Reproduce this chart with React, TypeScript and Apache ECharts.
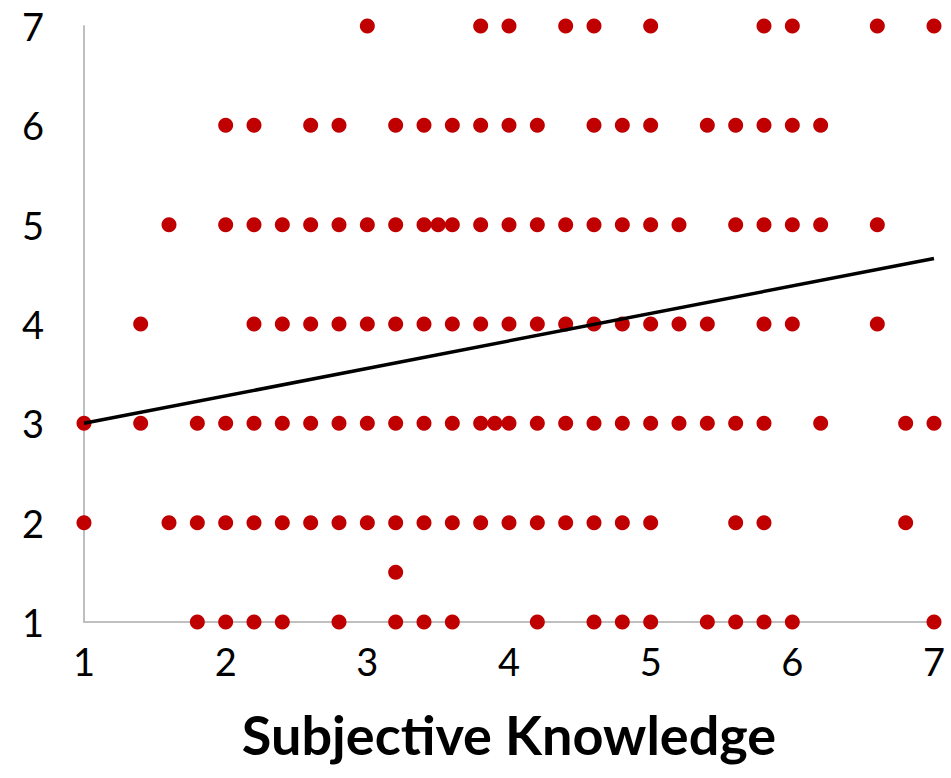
import React, { useEffect, useRef } from "react";
import * as echarts from "echarts";

// x values of the dots at each y level
const row7: number[] = [3, 3.8, 4, 4.4, 4.6, 5, 5.8, 6, 6.6, 7];
const row6: number[] = [2, 2.2, 2.6, 2.8, 3.2, 3.4, 3.6, 3.8, 4, 4.2, 4.6, 4.8, 5, 5.4, 5.6, 5.8, 6, 6.2];
const row5: number[] = [1.6, 2, 2.2, 2.4, 2.6, 2.8, 3, 3.2, 3.4, 3.5, 3.6, 3.8, 4, 4.2, 4.4, 4.6, 4.8, 5, 5.2, 5.6, 5.8, 6, 6.2, 6.6];
const row4: number[] = [1.4, 2.2, 2.4, 2.6, 2.8, 3, 3.2, 3.4, 3.6, 3.8, 4, 4.2, 4.4, 4.6, 4.8, 5, 5.2, 5.4, 5.8, 6, 6.6];
const row3: number[] = [1, 1.4, 1.8, 2, 2.2, 2.4, 2.6, 2.8, 3, 3.2, 3.4, 3.6, 3.8, 3.9, 4, 4.2, 4.4, 4.6, 4.8, 5, 5.2, 5.4, 5.6, 5.8, 6.2, 6.8, 7];
const row2: number[] = [1, 1.6, 1.8, 2, 2.2, 2.4, 2.6, 2.8, 3, 3.2, 3.4, 3.6, 3.8, 4, 4.2, 4.4, 4.6, 4.8, 5, 5.6, 5.8, 6.8];
const row15: number[] = [3.2];
const row1: number[] = [1.8, 2, 2.2, 2.4, 2.8, 3.2, 3.4, 3.6, 4.2, 4.6, 4.8, 5, 5.4, 5.6, 5.8, 6, 7];

const rowLevels: number[] = [7, 6, 5, 4, 3, 2, 1.5, 1];
const rows: number[][] = [row7, row6, row5, row4, row3, row2, row15, row1];

// linear trend line end points
const trendX: number[] = [1, 7];
const trendY: number[] = [3.0, 4.66];

const xAxisTitle = "Subjective Knowledge";

export default function App() {
  const ref = useRef<HTMLDivElement>(null);
  useEffect(() => {
    if (!ref.current) return;
    const chart = echarts.init(ref.current, null, { renderer: "svg" });
    const points: number[][] = [];
    rows.forEach((r, i) => r.forEach((x) => points.push([x, rowLevels[i]])));
    const trend = trendX.map((x, i) => [x, trendY[i]]);
    chart.setOption({
      animation: false,
      backgroundColor: "#ffffff",
      grid: { left: 84, right: 17, top: 26, bottom: 156, containLabel: false },
      xAxis: {
        type: "value",
        min: 1,
        max: 7,
        interval: 1,
        name: xAxisTitle,
        nameLocation: "middle",
        nameGap: 85,
        nameTextStyle: { fontFamily: "Lato", fontWeight: "bold", fontSize: 54, color: "#000" },
        axisLine: { show: true, lineStyle: { color: "#bfbfbf", width: 2 } },
        axisTick: { show: false },
        splitLine: { show: false },
        axisLabel: { fontFamily: "Lato", fontSize: 38, color: "#000", margin: 20 },
      },
      yAxis: {
        type: "value",
        min: 1,
        max: 7,
        interval: 1,
        axisLine: { show: true, onZero: false, lineStyle: { color: "#bfbfbf", width: 2 } },
        axisTick: { show: false },
        splitLine: { show: false },
        axisLabel: { fontFamily: "Lato", fontSize: 38, color: "#000", margin: 40 },
      },
      series: [
        {
          type: "scatter",
          data: points,
          symbol: "circle",
          symbolSize: 15,
          itemStyle: { color: "#c00000", opacity: 1 },
          z: 2,
        },
        {
          type: "line",
          data: trend,
          showSymbol: false,
          symbol: "none",
          lineStyle: { color: "#000", width: 3.5 },
          z: 3,
        },
      ],
    });
    return () => chart.dispose();
  }, []);
  return <div ref={ref} style={{ width: 951, height: 778, position: "absolute", left: 0, top: 0 }} />;
}
